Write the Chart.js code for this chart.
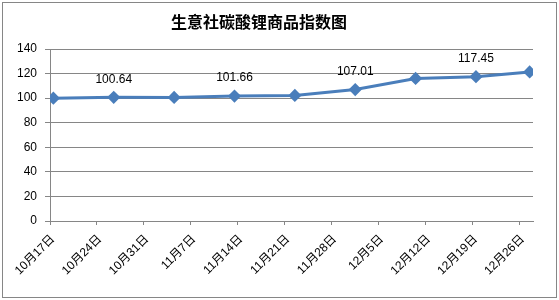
<!DOCTYPE html>
<html>
<head>
<meta charset="utf-8">
<script src="https://cdn.jsdelivr.net/npm/chart.js@4/dist/chart.umd.min.js"></script>
<style>
  html, body { margin: 0; padding: 0; background: #fff; }
  #wrap { width: 559px; height: 300px; position: relative; }
</style>
</head>
<body>
<div id="wrap"><canvas id="myChart"></canvas></div>
<script>
const chartTitle = "生意社碳酸锂商品指数图";
const axisStart = "10-17";
const axisEnd = "12-28";
const pointDates = ["10-17", "10-26", "11-04", "11-13", "11-22", "12-01", "12-10", "12-19", "12-27"];
const indexValues = [100.0, 100.64, 100.55, 101.66, 102.2, 107.01, 116.0, 117.45, 121.3];
const labeledPoints = [1, 3, 5, 7];
const yMin = 0;
const yMax = 140;
const yStep = 20;
const xStepDays = 7;

const gray = "#868686";
const blue = "#4A7EBB";
const tickFont = { family: '"Liberation Sans", "Noto Sans CJK SC", sans-serif', size: 12 };

function dayOffset(md) {
  const [m, d] = md.split("-").map(Number);
  const [m0, d0] = axisStart.split("-").map(Number);
  return (Date.UTC(2011, m - 1, d) - Date.UTC(2011, m0 - 1, d0)) / 86400000;
}

function dayLabel(offset) {
  const [m0, d0] = axisStart.split("-").map(Number);
  const dt = new Date(Date.UTC(2011, m0 - 1, d0 + offset));
  return (dt.getUTCMonth() + 1) + "月" + dt.getUTCDate() + "日";
}

// Excel date axis: each point sits in the middle of its day
let points = [];
for (let i = 0; i < pointDates.length; i++) {
  points.push({ x: dayOffset(pointDates[i]) + 0.5, y: indexValues[i] });
}

const decorations = {
  id: "decorations",
  afterDraw(chart) {
    const ctx = chart.ctx;
    ctx.save();
    ctx.strokeStyle = gray;
    ctx.lineWidth = 1;
    ctx.strokeRect(2.5, 2.5, 554, 295);

    ctx.fillStyle = "#000";
    ctx.textAlign = "center";
    ctx.textBaseline = "middle";
    ctx.font = 'bold 16px "Noto Sans CJK SC", sans-serif';
    ctx.fillText(chartTitle, 259, 22);

    const meta = chart.getDatasetMeta(0);
    ctx.font = '12px "Liberation Sans", sans-serif';
    labeledPoints.forEach((i) => {
      const p = meta.data[i];
      ctx.fillText(indexValues[i].toFixed(2), p.x, p.y - 18);
    });
    ctx.restore();
  },
};

const config = {
  type: "line",
  data: {
    datasets: [{
      data: points,
      borderColor: blue,
      backgroundColor: blue,
      borderWidth: 3,
      pointStyle: "rectRot",
      pointRadius: 4.5,
      pointHoverRadius: 4.5,
      tension: 0,
    }],
  },
  options: {
    animation: false,
    responsive: true,
    maintainAspectRatio: false,
    layout: {
      padding: { top: 49, right: 26, left: 0, bottom: 0 },
    },
    scales: {
      x: {
        type: "linear",
        min: 0,
        max: dayOffset(axisEnd),
        afterFit: (scale) => { scale.height = 79; },
        ticks: {
          stepSize: xStepDays,
          includeBounds: false,
          autoSkip: false,
          minRotation: 45,
          maxRotation: 45,
          padding: 7,
          labelOffset: 3,
          color: "#000",
          font: tickFont,
          callback: (v) => dayLabel(v),
        },
        grid: {
          drawOnChartArea: false,
          tickLength: 4,
          color: gray,
        },
        border: { color: gray },
      },
      y: {
        min: yMin,
        max: yMax,
        afterFit: (scale) => { scale.width = 50; },
        ticks: {
          stepSize: yStep,
          padding: 8,
          color: "#000",
          font: tickFont,
        },
        grid: {
          color: gray,
          tickLength: 5,
        },
        border: { color: gray },
      },
    },
    plugins: {
      legend: { display: false },
      tooltip: { enabled: false },
      title: { display: false },
    },
  },
  plugins: [decorations],
};

const myChart = new Chart(document.getElementById("myChart"), config);
</script>
</body>
</html>
